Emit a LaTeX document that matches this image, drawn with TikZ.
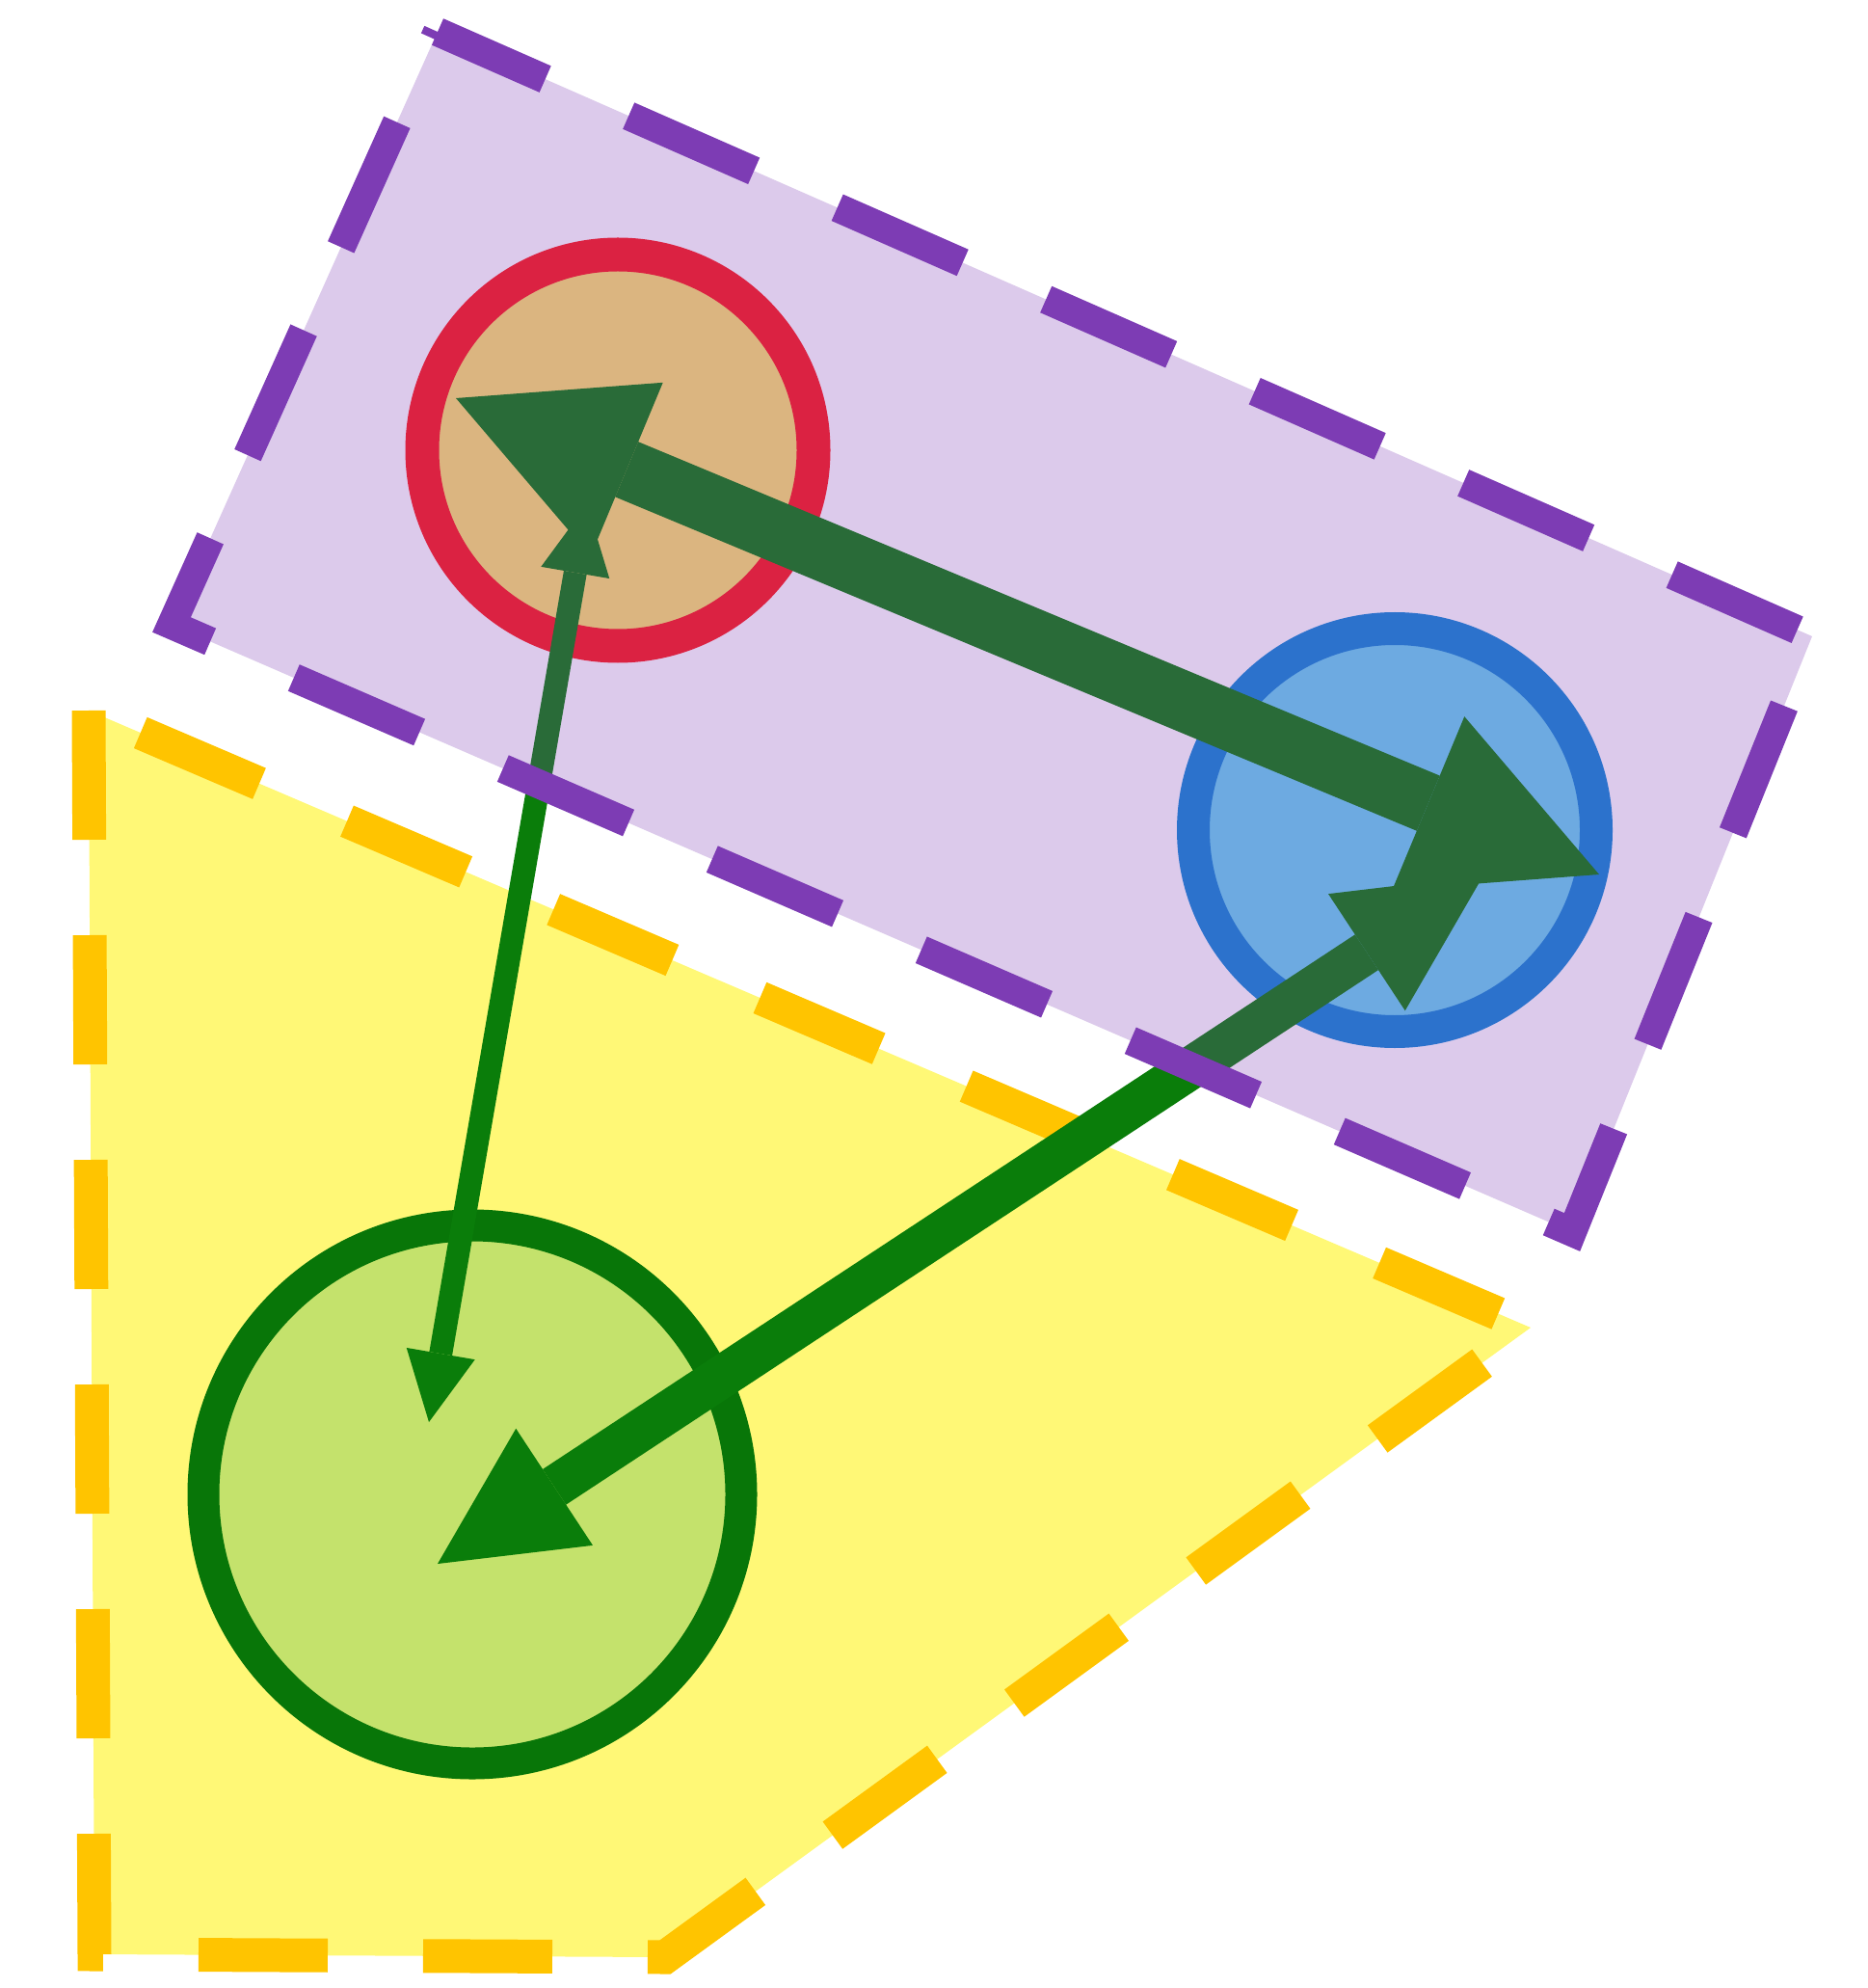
\documentclass[tikz,border=0pt]{standalone}
\usepackage{tikz}
\usetikzlibrary{arrows.meta,calc}
\definecolor{vio}{RGB}{125,60,180}
\definecolor{amber}{RGB}{255,196,0}
\definecolor{lemon}{RGB}{255,248,118}
\definecolor{arrgreen}{RGB}{10,125,10}
\definecolor{ringgreen}{RGB}{8,118,8}
\definecolor{lime}{RGB}{196,226,108}
\definecolor{crim}{RGB}{255,25,25}
\definecolor{sand}{RGB}{255,227,109}
\definecolor{sea}{RGB}{15,135,214}
\definecolor{sky}{RGB}{104,211,242}

\begin{document}
\begin{tikzpicture}[
  ring/.style={circle,draw,inner sep=0pt},
  dbl/.style={draw=arrgreen, arrows={Triangle[length=#1,width=#1,line width=0pt]-Triangle[length=#1,width=#1,line width=0pt]}}
]
  \useasboundingbox (0,0) rectangle (19.37,-20.62);
  \draw[draw=amber, fill=lemon, line width=3.5mm, dash pattern=on 13.4mm off 9.9mm]
    (0.92,-7.37) -- (0.98,-20.27) -- (6.90,-20.30) -- (15.88,-13.77) -- cycle;
  \node[ring, draw=ringgreen, fill=lime, line width=3.3mm, minimum size=55.8mm] (green) at (4.90,-15.50) {};
  \node[ring, draw=crim, fill=sand, line width=3.5mm, minimum size=40.6mm] (red) at (6.41,-4.67) {};
  \node[ring, draw=sea, fill=sky, line width=3.4mm, minimum size=41.8mm] (blue) at (14.47,-8.61) {};
  \coordinate (red-b) at ($(red)+(-1.68,0.54)$);
  \coordinate (red-g) at ($(red)+(-0.32,-0.56)$);
  \coordinate (blue-r) at ($(blue)+(2.12,-0.46)$);
  \coordinate (blue-g) at ($(blue)+(0.92,-0.47)$);
  \coordinate (green-b) at ($(green)+(-0.36,-0.72)$);
  \coordinate (green-r) at ($(green)+(-0.45,0.75)$);
  \draw[dbl=7.2mm, line width=2.4mm] (red-g) -- (green-r);
  \draw[dbl=14.5mm, line width=4.4mm] (blue-g) -- (green-b);
  \draw[draw=arrgreen, line width=6.2mm, arrows={Triangle[length=19.2mm,width=19.5mm,line width=0pt]-Triangle[length=19.2mm,width=19.5mm,line width=0pt]}] (red-b) -- (blue-r);
  \draw[draw=vio, fill=vio, fill opacity=0.27, line width=3mm, dash pattern=on 14.2mm off 9.45mm, dash phase=2mm]
    (4.54,-0.33) -- (18.80,-6.60) -- (16.31,-12.78) -- (1.78,-6.48) -- cycle;
\end{tikzpicture}
\end{document}
